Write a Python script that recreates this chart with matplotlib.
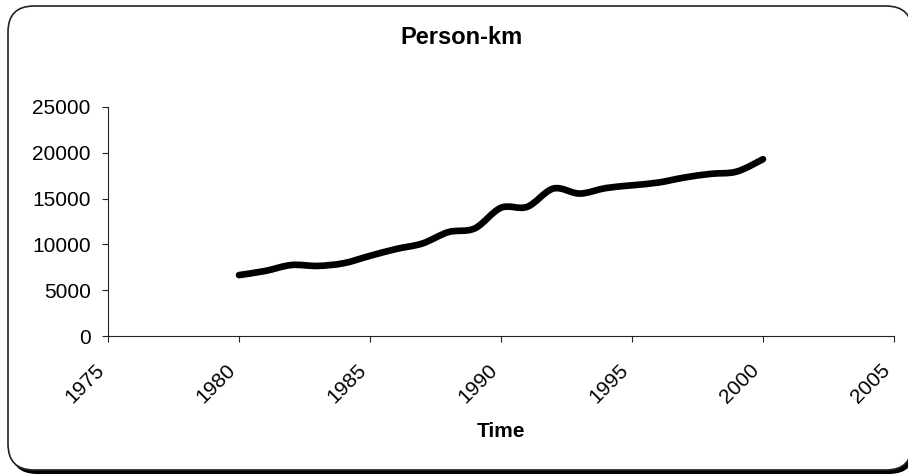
import numpy as np
import matplotlib.pyplot as plt
import matplotlib.transforms as mtransforms
from matplotlib.patches import FancyBboxPatch, PathPatch
from matplotlib.path import Path

plt.rcParams['font.family'] = ['Liberation Sans', 'DejaVu Sans']

years = [1980, 1981, 1982, 1983, 1984, 1985, 1986, 1987, 1988, 1989, 1990,
         1991, 1992, 1993, 1994, 1995, 1996, 1997, 1998, 1999, 2000]
person_km = [6650, 7100, 7750, 7650, 7950, 8750, 9500, 10100, 11350, 11750, 14000,
             14100, 16100, 15550, 16150, 16450, 16750, 17300, 17700, 17950, 19300]
x_ticks = [1975, 1980, 1985, 1990, 1995, 2000, 2005]
y_ticks = [0, 5000, 10000, 15000, 20000, 25000]


def smooth_path(xs, ys):
    # cubic bezier through every point, excel-style smoothing
    p = np.column_stack([xs, ys]).astype(float)
    pts = np.vstack([p[0], p, p[-1]])
    verts = [p[0]]
    codes = [Path.MOVETO]
    for i in range(1, len(pts) - 2):
        c1 = pts[i] + (pts[i + 1] - pts[i - 1]) / 6.0
        c2 = pts[i + 1] - (pts[i + 2] - pts[i]) / 6.0
        verts += [c1, c2, pts[i + 1]]
        codes += [Path.CURVE4] * 3
    return Path(verts, codes)


W, H = 908, 475
fig = plt.figure(figsize=(W / 100, H / 100), dpi=100)
fig.patch.set_facecolor('white')

# rounded chart border with a drop shadow on the lower right, kept behind the axes
px = mtransforms.IdentityTransform()
shadow = FancyBboxPatch((11, 1), 904, 465, boxstyle='round,pad=0,rounding_size=26',
                        transform=px, facecolor='black', edgecolor='black', lw=0,
                        zorder=-2)
frame = FancyBboxPatch((8, 5), 904, 464, boxstyle='round,pad=0,rounding_size=26',
                       transform=px, facecolor='white', edgecolor='#222222', lw=1.2,
                       zorder=-1)
fig.add_artist(shadow)
fig.add_artist(frame)

ax = fig.add_axes([108 / W, 1 - 336 / H, (894 - 108) / W, (336 - 107) / H])
ax.set_facecolor('none')

line = PathPatch(smooth_path(years, person_km), transform=ax.transData, fill=False,
                 edgecolor='black', lw=4.8, capstyle='round', joinstyle='round')
ax.add_patch(line)

ax.set_xlim(1975, 2005)
ax.set_ylim(0, 25000)
ax.set_xticks(x_ticks)
ax.set_yticks(y_ticks)
ax.set_xticklabels([str(t) for t in x_ticks], rotation=45, ha='right')
ax.tick_params(axis='both', direction='out', length=4.5, width=0.8, color='#222222',
               labelsize=15, labelcolor='black')
ax.tick_params(axis='y', pad=8)
ax.tick_params(axis='x', pad=13)

for side in ['top', 'right']:
    ax.spines[side].set_visible(False)
for side in ['left', 'bottom']:
    ax.spines[side].set_color('#222222')
    ax.spines[side].set_linewidth(0.8)

ax.set_xlabel('Time', fontsize=15, fontweight='bold', labelpad=11)
fig.text(462 / W, 1 - 38 / H, 'Person-km', fontsize=17, fontweight='bold',
         ha='center', va='center')

fig.savefig('out.png', dpi=100)
